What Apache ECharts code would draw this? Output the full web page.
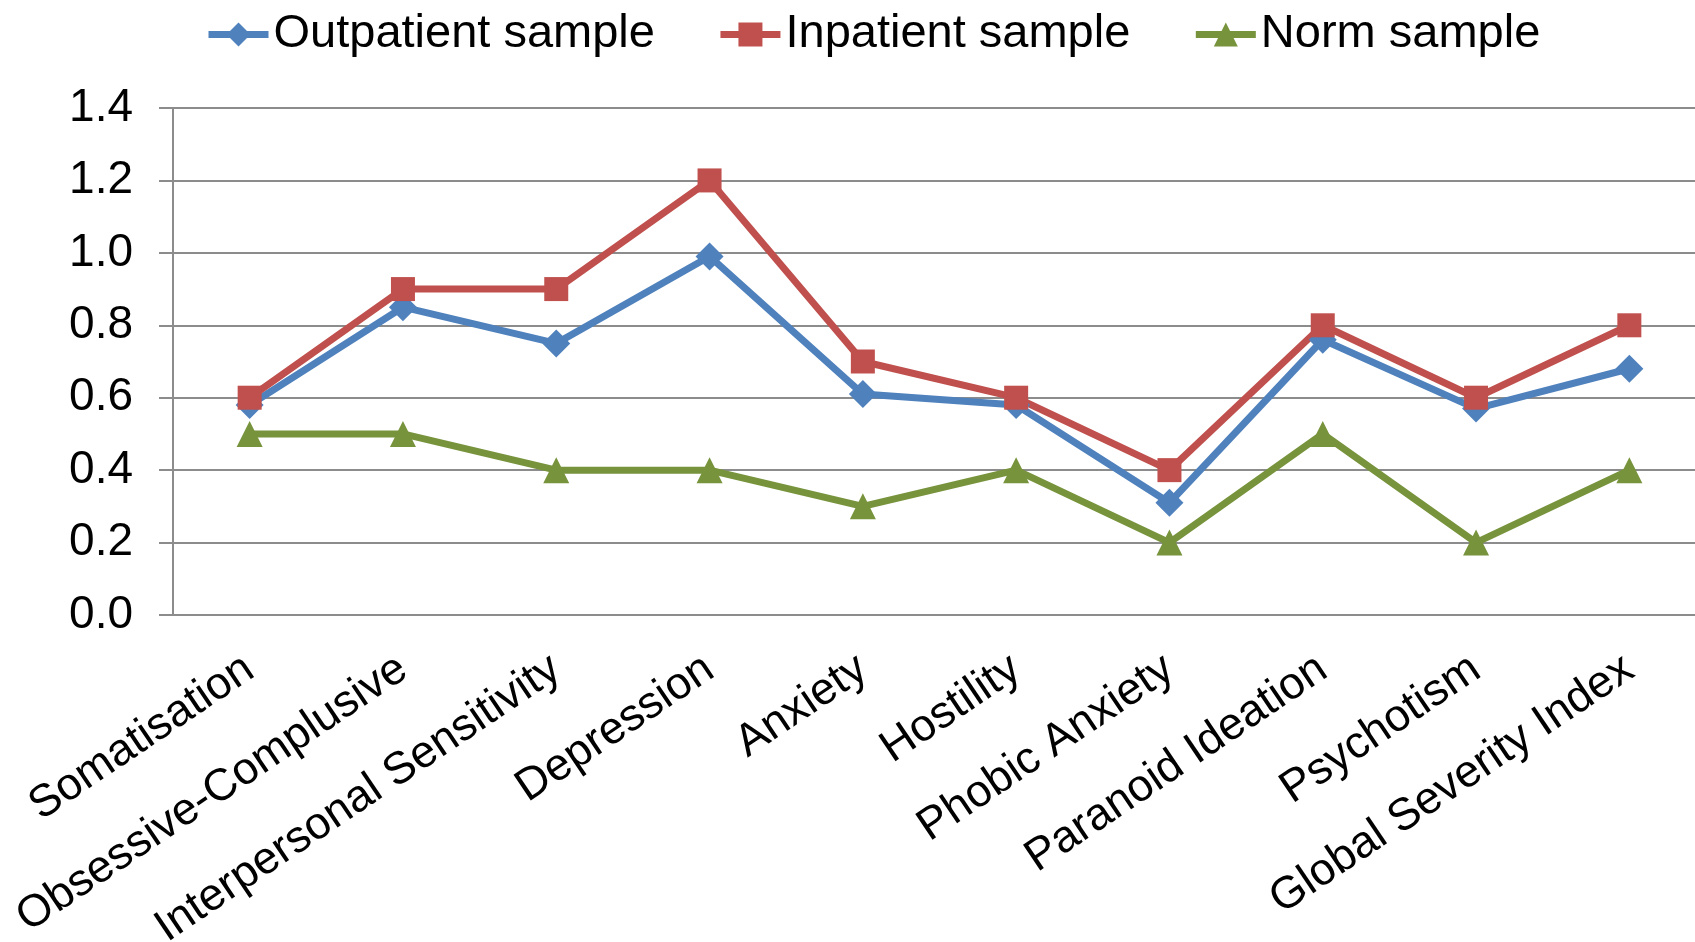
<!DOCTYPE html>
<html>
<head>
<meta charset="utf-8">
<script src="https://cdn.jsdelivr.net/npm/echarts@6/dist/echarts.min.js"></script>
<style>
  html, body { margin: 0; padding: 0; background: #fff; }
  #myChart { width: 1695px; height: 942px; }
</style>
</head>
<body>
<div id="myChart"></div>
<script>
// scale names on the x axis
var categories = ['Somatisation', 'Obsessive-Complusive', 'Interpersonal Sensitivity', 'Depression',
  'Anxiety', 'Hostility', 'Phobic Anxiety', 'Paranoid Ideation', 'Psychotism', 'Global Severity Index']

var outpatient = [0.58, 0.85, 0.75, 0.99, 0.61, 0.58, 0.31, 0.76, 0.57, 0.68]
var inpatient = [0.6, 0.9, 0.9, 1.2, 0.7, 0.6, 0.4, 0.8, 0.6, 0.8]
var norm = [0.5, 0.5, 0.4, 0.4, 0.3, 0.4, 0.2, 0.5, 0.2, 0.4]

var seriesNames = ['Outpatient sample', 'Inpatient sample', 'Norm sample']
var colors = ['#4F81BD', '#C0504D', '#77933C']

var font = 'Liberation Sans, Arial, sans-serif'
var gridColor = '#8c8c8c'

let myChart = echarts.init(document.getElementById('myChart'))

function lineSeries (name, data, color, symbol, size) {
  return {
    name: name,
    type: 'line',
    data: data,
    symbol: symbol,
    symbolSize: size,
    lineStyle: { color: color, width: 7 },
    itemStyle: { color: color },
    z: 3
  }
}

let option = {
  backgroundColor: '#fff',
  animation: false,
  legend: {
    left: 200,
    top: 6,
    itemWidth: 60,
    itemHeight: 30,
    itemGap: 62,
    lineStyle: { width: 7 },
    textStyle: { fontFamily: font, fontSize: 47, color: '#000' },
    data: seriesNames
  },
  grid: {
    left: 173,
    right: -11,
    top: 108,
    bottom: 327,
    outerBoundsMode: 'none'
  },
  xAxis: {
    type: 'category',
    data: categories,
    boundaryGap: true,
    axisLine: { lineStyle: { color: gridColor, width: 2 } },
    axisTick: { alignWithLabel: true, length: 14, lineStyle: { color: gridColor, width: 2 } },
    axisLabel: {
      interval: 0,
      rotate: 34,
      margin: 50,
      fontFamily: font,
      fontSize: 45,
      color: '#000'
    }
  },
  yAxis: {
    type: 'value',
    min: 0,
    max: 1.4,
    interval: 0.2,
    axisLine: { show: true, lineStyle: { color: gridColor, width: 2 } },
    axisTick: { show: true, inside: false, length: 14, lineStyle: { color: gridColor, width: 2 } },
    splitLine: { lineStyle: { color: gridColor, width: 2 } },
    axisLabel: {
      margin: 40,
      fontFamily: font,
      fontSize: 46,
      color: '#000',
      formatter: function (v) { return v.toFixed(1) }
    }
  },
  series: [
    lineSeries(seriesNames[0], outpatient, colors[0], 'diamond', 28),
    lineSeries(seriesNames[1], inpatient, colors[1], 'rect', 24),
    lineSeries(seriesNames[2], norm, colors[2], 'triangle', 26)
  ]
}
myChart.setOption(option)
</script>
</body>
</html>
